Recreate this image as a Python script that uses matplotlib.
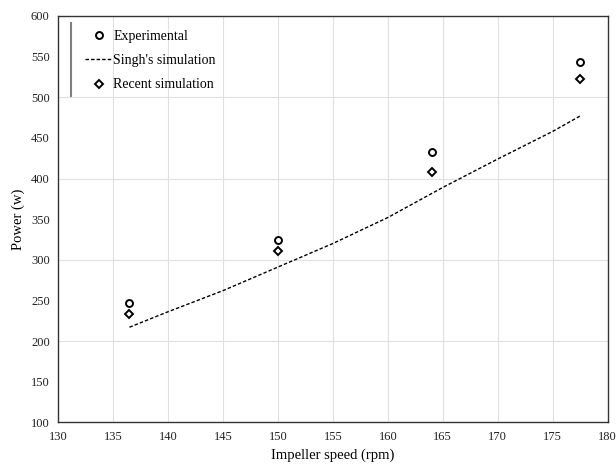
import matplotlib
matplotlib.use("Agg")
import matplotlib.pyplot as plt

plt.rcParams['font.family'] = ['Liberation Serif', 'DejaVu Serif']

# measured points
speed = [136.5, 150, 164, 177.5]
power_exp = [247, 324, 433, 543]
power_recent = [233, 311, 408, 522]

# Singh's simulation curve
singh_speed = [136.5, 140, 145, 150, 155, 160, 165, 170, 175, 177.5]
singh_power = [217, 236, 262, 291, 320, 352, 389, 424, 458, 477]

fig = plt.figure(figsize=(6.16, 4.66), dpi=100)
ax = fig.add_axes([0.0942, 0.0938, 0.8923, 0.8719])

ax.plot(speed, power_exp, 'o', mfc='white', mec='black', mew=1.4, ms=5,
        ls='none', label='Experimental', zorder=3)
ax.plot(singh_speed, singh_power, color='black', lw=1.0, ls=(0, (2.5, 1.5)),
        label="Singh's simulation", zorder=2)
ax.plot(speed, power_recent, 'D', mfc='white', mec='black', mew=1.4, ms=4.2,
        ls='none', label='Recent simulation', zorder=3)

ax.set_xlim(130, 180)
ax.set_ylim(100, 600)
ax.set_xticks(range(130, 181, 5))
ax.set_yticks(range(100, 601, 50))
for x in range(135, 180, 5):
    ax.axvline(x, color='#e0e0e0', lw=0.8, zorder=0)
for y in range(200, 600, 100):
    ax.axhline(y, color='#e0e0e0', lw=0.8, zorder=0)

ax.tick_params(length=0, labelsize=9, pad=6, colors='#222222')
for s in ax.spines.values():
    s.set_color('#333333')
    s.set_linewidth(1.0)

ax.set_xlabel('Impeller speed (rpm)', fontsize=10.5, labelpad=4)
ax.set_ylabel('Power (w)', fontsize=10.5, labelpad=4)

ax.legend(loc='upper left', bbox_to_anchor=(0.049, 0.965), frameon=False,
          fontsize=10, handlelength=1.95, handletextpad=0.1,
          borderpad=0, borderaxespad=0, labelspacing=0.8)
ax.plot([0.023, 0.023], [0.982, 0.803], transform=ax.transAxes,
        color='#808080', lw=1.5, clip_on=False)

fig.savefig('out.png', dpi=100)
